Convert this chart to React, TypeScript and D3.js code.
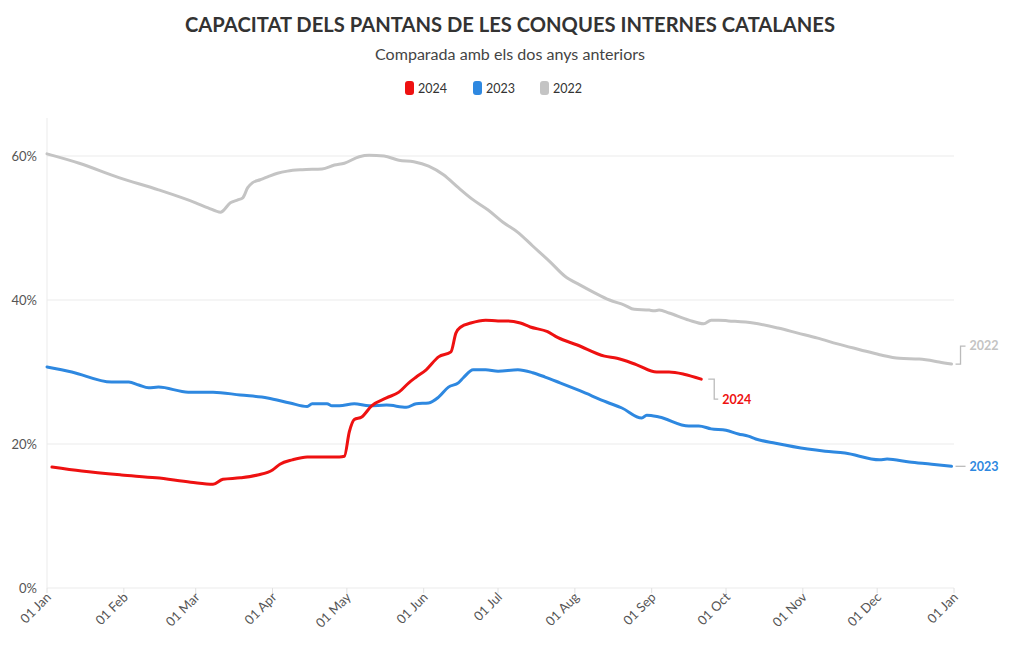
import React from "react";
import * as d3 from "d3";

const years = ["2024", "2023", "2022"];
const colors: Record<string, string> = { "2024": "#ee1111", "2023": "#2e88e0", "2022": "#c4c4c4" };

const dates2024 = ["01-03","01-15","01-31","02-14","02-28","03-08","03-12","03-19","03-26","04-01","04-04","04-09","04-15","04-28","04-30","05-02","05-04","05-07","05-11","05-17","05-22","05-26","05-29","06-02","06-07","06-12","06-14","06-16","06-20","06-26","07-01","07-05","07-10","07-14","07-21","07-25","08-02","08-13","08-18","08-26","09-03","09-08","09-14","09-21"];
const values2024 = [16.8,16.25,15.7,15.3,14.7,14.4,15.1,15.3,15.7,16.4,17.2,17.8,18.2,18.2,18.3,21.7,23.4,23.75,25.3,26.4,27.2,28.5,29.3,30.3,32.1,32.8,35.4,36.25,36.8,37.2,37.1,37.1,36.8,36.25,35.6,34.8,33.75,32.2,31.9,31.0,30.0,30.0,29.7,29.0];

const dates2023 = ["01-01","01-11","01-27","02-03","02-07","02-11","02-15","02-27","03-08","03-19","03-30","04-08","04-15","04-17","04-23","04-25","04-28","05-04","05-10","05-17","05-25","05-29","06-03","06-07","06-11","06-15","06-17","06-21","06-26","07-01","07-09","07-15","07-20","07-26","08-03","08-14","08-20","08-28","08-30","09-04","09-16","09-20","09-25","10-01","10-06","10-10","10-13","10-21","11-03","11-10","11-18","12-02","12-05","12-14","12-23","12-31"];
const values2023 = [30.7,30.0,28.6,28.6,28.2,27.8,27.9,27.2,27.2,26.8,26.4,25.7,25.2,25.6,25.6,25.3,25.3,25.6,25.3,25.4,25.1,25.6,25.7,26.5,27.9,28.5,29.2,30.3,30.3,30.1,30.3,29.9,29.3,28.5,27.4,25.8,25.0,23.6,24.0,23.75,22.5,22.5,22.1,21.9,21.4,21.1,20.7,20.1,19.3,19.0,18.75,17.8,17.9,17.5,17.2,16.9];

const dates2022 = ["01-01","01-14","01-30","02-15","03-01","03-06","03-11","03-15","03-18","03-20","03-22","03-24","03-27","03-30","04-03","04-07","04-13","04-21","04-26","04-30","05-06","05-10","05-16","05-22","05-28","06-03","06-09","06-15","06-21","06-27","07-03","07-09","07-15","07-22","07-28","08-03","08-09","08-15","08-21","08-25","08-31","09-02","09-04","09-08","09-16","09-22","09-25","09-28","10-02","10-12","10-22","10-30","11-07","11-15","11-24","12-02","12-10","12-18","12-26","12-31"];
const values2022 = [60.3,59.0,57.0,55.3,53.5,52.8,52.2,53.5,53.9,54.2,55.6,56.3,56.7,57.1,57.6,57.9,58.1,58.2,58.75,59.0,59.9,60.1,60.0,59.4,59.2,58.6,57.4,55.6,53.9,52.5,50.8,49.4,47.5,45.3,43.3,42.1,41.0,40.0,39.3,38.7,38.6,38.5,38.6,38.2,37.2,36.7,37.2,37.2,37.1,36.8,36.1,35.4,34.7,33.9,33.1,32.4,31.9,31.8,31.4,31.1];

const yTicks = [0, 20, 40, 60];
const xTickLabels = ["01 Jan","01 Feb","01 Mar","01 Apr","01 May","01 Jun","01 Jul","01 Aug","01 Sep","01 Oct","01 Nov","01 Dec","01 Jan"];

const title = "CAPACITAT DELS PANTANS DE LES CONQUES INTERNES CATALANES";
const subtitle = "Comparada amb els dos anys anteriors";

const FONT = "Lato, 'Open Sans', sans-serif";

export default function App() {
  const W = 1020, H = 650;
  const left = 47, right = 954, top = 120, bottom = 588;
  const parse = (s: string) => new Date(2024, +s.slice(0, 2) - 1, +s.slice(3, 5));
  const x = d3.scaleTime().domain([new Date(2024, 0, 1), new Date(2025, 0, 1)]).range([left, right]);
  const y = d3.scaleLinear().domain([0, 65]).range([bottom, top]);

  const series: Record<string, { d: Date; v: number }[]> = {
    "2024": dates2024.map((s, i) => ({ d: parse(s), v: values2024[i] })),
    "2023": dates2023.map((s, i) => ({ d: parse(s), v: values2023[i] })),
    "2022": dates2022.map((s, i) => ({ d: parse(s), v: values2022[i] })),
  };
  const line = d3.line<{ d: Date; v: number }>().x(p => x(p.d)).y(p => y(p.v)).curve(d3.curveMonotoneX);
  const xTicks = d3.range(13).map(m => new Date(2024, m, 1));

  const last = (k: string) => series[k][series[k].length - 1];
  const e22 = last("2022"), e23 = last("2023"), e24 = last("2024");

  return (
    <svg width={W} height={H} style={{ position: "absolute", left: 0, top: 0, fontFamily: FONT }}>
      <rect width={W} height={H} fill="#fff" />
      <text x={510} y={32} textAnchor="middle" fontSize={21} fontWeight="bold" fill="#333" textLength={650} lengthAdjust="spacingAndGlyphs">{title}</text>
      <text x={510} y={60} textAnchor="middle" fontSize={15.5} fill="#444" textLength={270} lengthAdjust="spacingAndGlyphs">{subtitle}</text>
      {years.map((k, i) => {
        const lx = [405, 473, 540][i];
        return (
          <g key={k}>
            <rect x={lx} y={81} width={9} height={14} rx={3} fill={colors[k]} />
            <text x={lx + 13} y={92.5} fontSize={12.5} fill="#333">{k}</text>
          </g>
        );
      })}
      {yTicks.map(t => (
        <g key={t}>
          <line x1={left} x2={right} y1={y(t)} y2={y(t)} stroke="#ebebeb" strokeWidth={1} />
          <text x={37} y={y(t) + 4.5} textAnchor="end" fontSize={13} fill="#555">{t}%</text>
        </g>
      ))}
      <line x1={left} x2={left} y1={top - 2} y2={bottom} stroke="#ebebeb" />
      {xTicks.map((t, i) => (
        <g key={i}>
          <line x1={x(t)} x2={x(t)} y1={bottom} y2={bottom + 5} stroke="#e0e0e0" />
          <text transform={`translate(${x(t) + 5},${bottom + 10}) rotate(-45)`} textAnchor="end" fontSize={13} fill="#555">{xTickLabels[i]}</text>
        </g>
      ))}
      {["2022", "2023", "2024"].map(k => (
        <path key={k} d={line(series[k]) || ""} fill="none" stroke={colors[k]} strokeWidth={3} strokeLinejoin="round" strokeLinecap="round" />
      ))}
      <path d={`M${x(e22.d) + 4},${y(e22.v)} H${x(e22.d) + 9} V${y(e22.v) - 18} H${x(e22.d) + 14}`} fill="none" stroke="#bbb" strokeWidth={1.3} />
      <text x={x(e22.d) + 18} y={y(e22.v) - 14} fontSize={12.5} fontWeight="bold" fill={colors["2022"]}>2022</text>
      <path d={`M${x(e23.d) + 4},${y(e23.v)} H${x(e23.d) + 14}`} fill="none" stroke="#bbb" strokeWidth={1.3} />
      <text x={x(e23.d) + 18} y={y(e23.v) + 4.5} fontSize={12.5} fontWeight="bold" fill={colors["2023"]}>2023</text>
      <path d={`M${x(e24.d) + 7},${y(e24.v)} H${x(e24.d) + 13} V${y(e24.v) + 20} H${x(e24.d) + 17}`} fill="none" stroke="#bbb" strokeWidth={1.3} />
      <text x={x(e24.d) + 21} y={y(e24.v) + 24.5} fontSize={12.5} fontWeight="bold" fill={colors["2024"]}>2024</text>
    </svg>
  );
}
